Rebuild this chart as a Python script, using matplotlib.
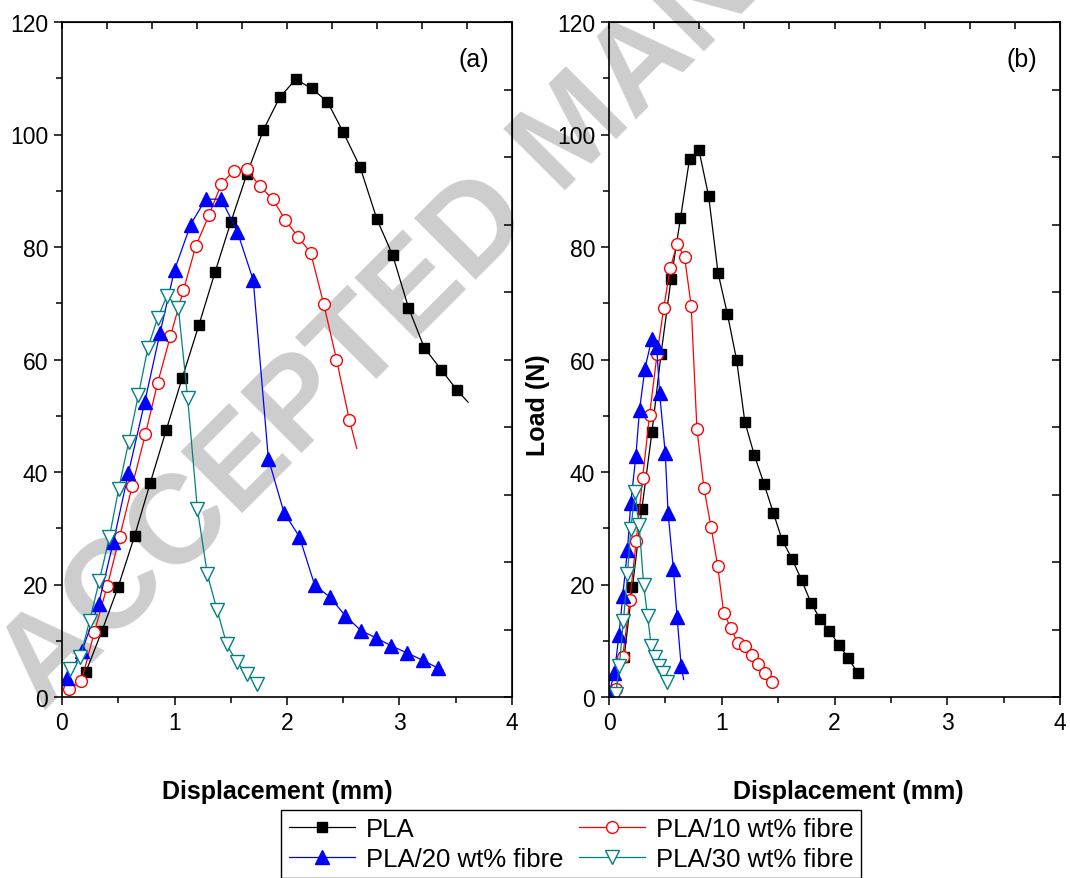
import numpy as np
import matplotlib
matplotlib.use('Agg')
import matplotlib.pyplot as plt
from matplotlib.ticker import MultipleLocator

plt.rcParams['font.family'] = ['Liberation Sans', 'DejaVu Sans']

# Panel (a) - wartosci
a_pla_x = [0.213, 0.356, 0.498, 0.646, 0.785, 0.927, 1.07, 1.218, 1.36, 1.502, 1.644, 1.79, 1.935,
           2.077, 2.22, 2.36, 2.50, 2.65, 2.80, 2.94, 3.08, 3.22, 3.37, 3.51, 3.61]
a_pla_y = [4.5, 11.8, 19.5, 28.7, 38.1, 47.5, 56.8, 66.2, 75.5, 84.5, 93.0, 100.8, 106.6,
           109.8, 108.2, 105.8, 100.4, 94.2, 84.9, 78.5, 69.2, 62.1, 58.2, 54.6, 52.4]

a_p10_x = [0.059, 0.172, 0.287, 0.403, 0.513, 0.625, 0.741, 0.85, 0.963, 1.079, 1.19, 1.307, 1.416,
           1.529, 1.644, 1.76, 1.873, 1.985, 2.098, 2.21, 2.326, 2.44, 2.554, 2.62]
a_p10_y = [1.35, 2.8, 11.5, 19.8, 28.5, 37.6, 46.7, 55.8, 64.1, 72.3, 80.2, 85.7, 91.2,
           93.6, 93.8, 90.8, 88.5, 84.8, 81.8, 79.0, 69.9, 60.0, 49.3, 44.2]

a_p20_x = [0.044, 0.178, 0.326, 0.456, 0.59, 0.735, 0.871, 1.0, 1.144, 1.277, 1.416, 1.559, 1.70,
           1.834, 1.973, 2.11, 2.246, 2.385, 2.519, 2.658, 2.794, 2.927, 3.07, 3.21, 3.345, 3.39]
a_p20_y = [3.4, 8.2, 16.6, 27.5, 39.8, 52.4, 64.7, 75.9, 84.0, 88.5, 88.5, 82.7, 74.1,
           42.4, 32.8, 28.5, 19.9, 17.7, 14.4, 11.8, 10.5, 9.1, 7.8, 6.5, 5.1, 4.7]

a_p30_x = [0.074, 0.163, 0.246, 0.332, 0.421, 0.504, 0.593, 0.679, 0.764, 0.85, 0.933, 1.034,
           1.117, 1.203, 1.292, 1.378, 1.464, 1.553, 1.644, 1.73]
a_p30_y = [4.9, 7.1, 13.6, 20.7, 28.4, 37.0, 45.4, 53.7, 62.1, 67.4, 71.3, 69.2,
           53.1, 33.5, 21.8, 15.5, 9.4, 6.2, 4.1, 2.4]

# Panel (b)
b_pla_x = [0.134, 0.208, 0.292, 0.381, 0.461, 0.551, 0.634, 0.714, 0.798, 0.884, 0.967, 1.05, 1.131,
           1.205, 1.289, 1.375, 1.458, 1.536, 1.622, 1.708, 1.792, 1.872, 1.955, 2.039, 2.122, 2.205, 2.255]
b_pla_y = [7.1, 19.6, 33.5, 47.1, 60.9, 74.4, 85.1, 95.6, 97.2, 89.0, 75.4, 68.1, 60.0,
           48.9, 43.0, 37.9, 32.7, 27.9, 24.6, 20.8, 16.7, 13.9, 11.7, 9.3, 6.9, 4.3, 3.9]

b_p10_x = [0.065, 0.122, 0.185, 0.241, 0.298, 0.36, 0.426, 0.485, 0.542, 0.604, 0.67, 0.729, 0.78,
           0.842, 0.905, 0.964, 1.018, 1.083, 1.14, 1.202, 1.265, 1.324, 1.384, 1.443]
b_p10_y = [1.5, 7.2, 17.3, 27.7, 38.9, 50.2, 60.9, 69.1, 76.2, 80.5, 78.3, 69.5, 47.6,
           37.2, 30.2, 23.3, 14.9, 12.2, 9.6, 9.0, 7.4, 5.8, 4.2, 2.6]

b_p20_x = [0.0, 0.048, 0.089, 0.122, 0.164, 0.193, 0.238, 0.271, 0.318, 0.378, 0.423, 0.449,
           0.499, 0.524, 0.571, 0.604, 0.64, 0.662]
b_p20_y = [0.7, 4.3, 11.1, 18.0, 26.2, 34.5, 42.8, 51.1, 58.3, 63.6, 62.3, 54.0,
           43.3, 32.7, 22.7, 14.2, 5.5, 3.1]

b_p30_x = [0.06, 0.092, 0.128, 0.164, 0.193, 0.232, 0.268, 0.307, 0.342, 0.375, 0.411, 0.44, 0.476, 0.515]
b_p30_y = [0.6, 5.6, 13.6, 21.8, 29.9, 36.4, 30.5, 20.0, 14.4, 9.0, 7.2, 5.6, 4.3, 2.7]

labels = ['PLA', 'PLA/10 wt% fibre', 'PLA/20 wt% fibre', 'PLA/30 wt% fibre']

styles = [
    dict(color='black', marker='s', ms=7.5, mfc='black', mec='black'),
    dict(color='red', marker='o', ms=8.5, mfc='white', mec='red'),
    dict(color='blue', marker='^', ms=9.5, mfc='blue', mec='blue'),
    dict(color='#008080', marker='v', ms=9.5, mfc='white', mec='#008080'),
]

fig = plt.figure(figsize=(10.7, 8.79), dpi=100)

# znak wodny (przyciety na krawedzi, jak w oryginale)
fig.text(0.04, 0.19, 'ACCEPTED MANUSCRIPT', rotation=45, rotation_mode='anchor',
         ha='left', va='baseline', fontsize=91, fontweight='bold', color='#cdcdcd', zorder=-1)

ax_a = fig.add_axes([62/1070, 1-698/879, 450/1070, 675/879])
ax_b = fig.add_axes([609/1070, 1-698/879, 451/1070, 675/879])

panel_a = [(a_pla_x, a_pla_y, True), (a_p10_x, a_p10_y, True), (a_p20_x, a_p20_y, True), (a_p30_x, a_p30_y, False)]
panel_b = [(b_pla_x, b_pla_y, True), (b_p10_x, b_p10_y, False), (b_p20_x, b_p20_y, True), (b_p30_x, b_p30_y, False)]

handles = []
for ax, series, tag in [(ax_a, panel_a, '(a)'), (ax_b, panel_b, '(b)')]:
    ax.set_facecolor('none')
    handles = []
    for (x, y, tail), st, lab in zip(series, styles, labels):
        me = slice(0, len(x) - 1) if tail else None
        h, = ax.plot(x, y, lw=0.9, markevery=me, label=lab, **st)
        handles.append(h)
    ax.set_xlim(0, 4)
    ax.set_ylim(0, 120)
    ax.xaxis.set_major_locator(MultipleLocator(1))
    ax.xaxis.set_minor_locator(MultipleLocator(0.5))
    ax.yaxis.set_major_locator(MultipleLocator(20))
    ax.yaxis.set_minor_locator(MultipleLocator(10))
    ax.tick_params(which='major', direction='out', length=6, width=1.1, labelsize=16.5, pad=4)
    ax.tick_params(which='minor', direction='out', length=4, width=1.1)
    for s in ax.spines.values():
        s.set_linewidth(1.2)
    top = ax.secondary_xaxis('top')
    top.set_xticks(np.linspace(0, 4, 11))
    top.tick_params(direction='in', length=5, width=1.1, labeltop=False)
    right = ax.secondary_yaxis('right')
    right.set_yticks(np.linspace(0, 120, 11))
    right.tick_params(direction='in', length=6, width=1.1, labelright=False)
    ax.text(3.66, 113.4, tag, ha='center', va='center', fontsize=18)

fig.text(277/1070, 1-792/879, 'Displacement (mm)', ha='center', va='center', fontsize=18, fontweight='bold')
fig.text(848/1070, 1-792/879, 'Displacement (mm)', ha='center', va='center', fontsize=18, fontweight='bold')
fig.text(538/1070, 1-405/879, 'Load (N)', ha='center', va='center', rotation=90, fontsize=18, fontweight='bold')

order = [0, 2, 1, 3]
leg = fig.legend([handles[i] for i in order], [labels[i] for i in order], ncol=2,
                 loc='center', bbox_to_anchor=(571/1070, 1-845/879), fontsize=18.5,
                 frameon=True, fancybox=False, edgecolor='black', framealpha=1,
                 handlelength=2.6, handletextpad=0.4, columnspacing=0.6,
                 labelspacing=0.2, borderpad=0.3, borderaxespad=0)
leg.get_frame().set_linewidth(1.0)

fig.savefig('out.png', dpi=100)
